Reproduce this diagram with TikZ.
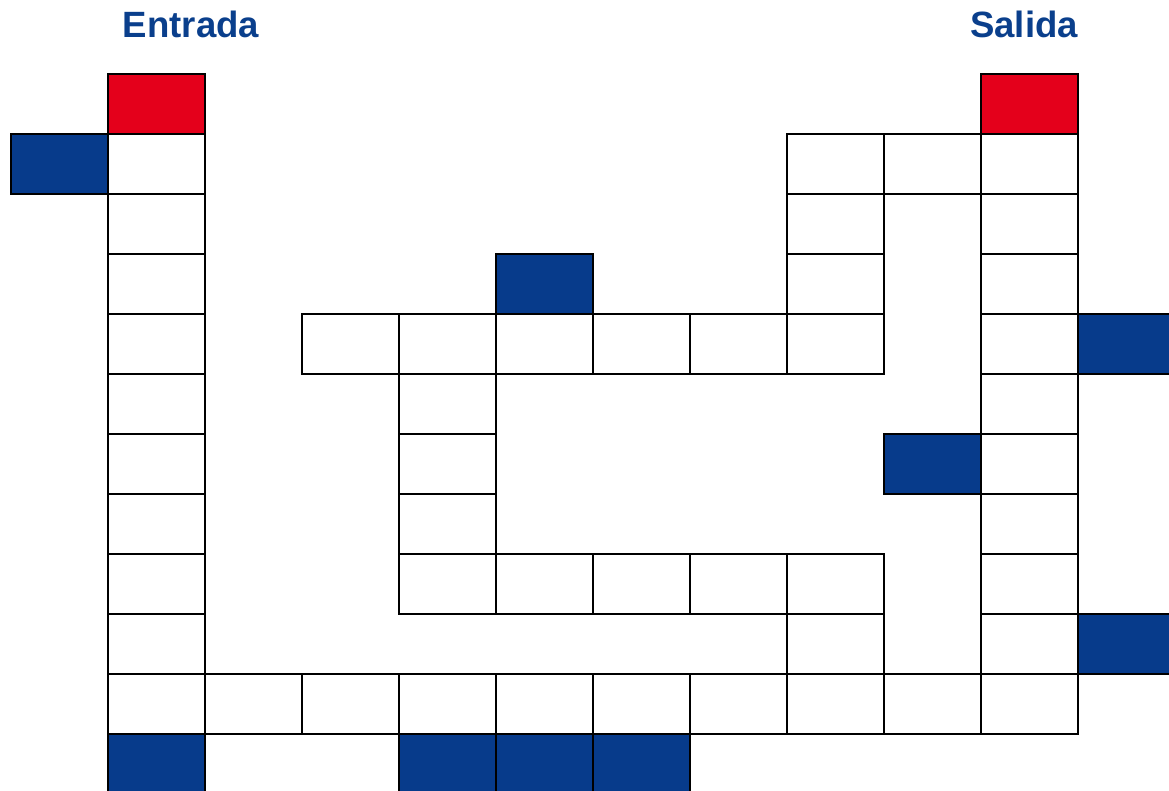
\documentclass[tikz,border=0pt]{standalone}
\usepackage{fontspec}
\setmainfont{Liberation Sans}
\definecolor{cellBlue}{RGB}{7,59,139}
\definecolor{cellRed}{RGB}{228,0,27}
\definecolor{titleBlue}{RGB}{10,63,140}

\begin{document}
\begin{tikzpicture}[x=0.01cm, y=-0.01cm,
    cell/.style={draw=black, line width=0.6pt},
    title/.style={anchor=base, text=titleBlue, font=\fontsize{10.4}{12}\selectfont\bfseries, inner sep=0pt}]
  \useasboundingbox (0,0) rectangle (1169,791);
  \clip (0,0) rectangle (1169,791);

  % white squares of the path (column, row)
  \foreach \c/\r in {1/1,1/2,1/3,1/4,1/5,1/6,1/7,1/8,1/9,
                     2/10,3/10,4/10,5/10,6/10,7/10,8/10,9/10,1/10,
                     10/1,10/2,10/3,10/4,10/5,10/6,10/7,10/8,10/9,10/10,
                     8/1,9/1,8/2,8/3,8/4,
                     3/4,4/4,5/4,6/4,7/4,
                     4/5,4/6,4/7,4/8,5/8,6/8,7/8,8/8,8/9}
    \draw[cell, fill=white] ({11+97*\c},{74+60*\r}) rectangle ++(97,60);

  % blue squares
  \foreach \c/\r in {0/1,5/3,11/4,9/6,11/9,1/11,4/11,5/11,6/11}
    \draw[cell, fill=cellBlue] ({11+97*\c},{74+60*\r}) rectangle ++(97,60);

  % red squares: start and end
  \foreach \c in {1,10}
    \draw[cell, fill=cellRed] ({11+97*\c},74) rectangle ++(97,60);

  \node[title] (entrada) at (191,38) {Entrada};
  \node[title] (salida) at (1024,38) {Salida};
\end{tikzpicture}
\end{document}
